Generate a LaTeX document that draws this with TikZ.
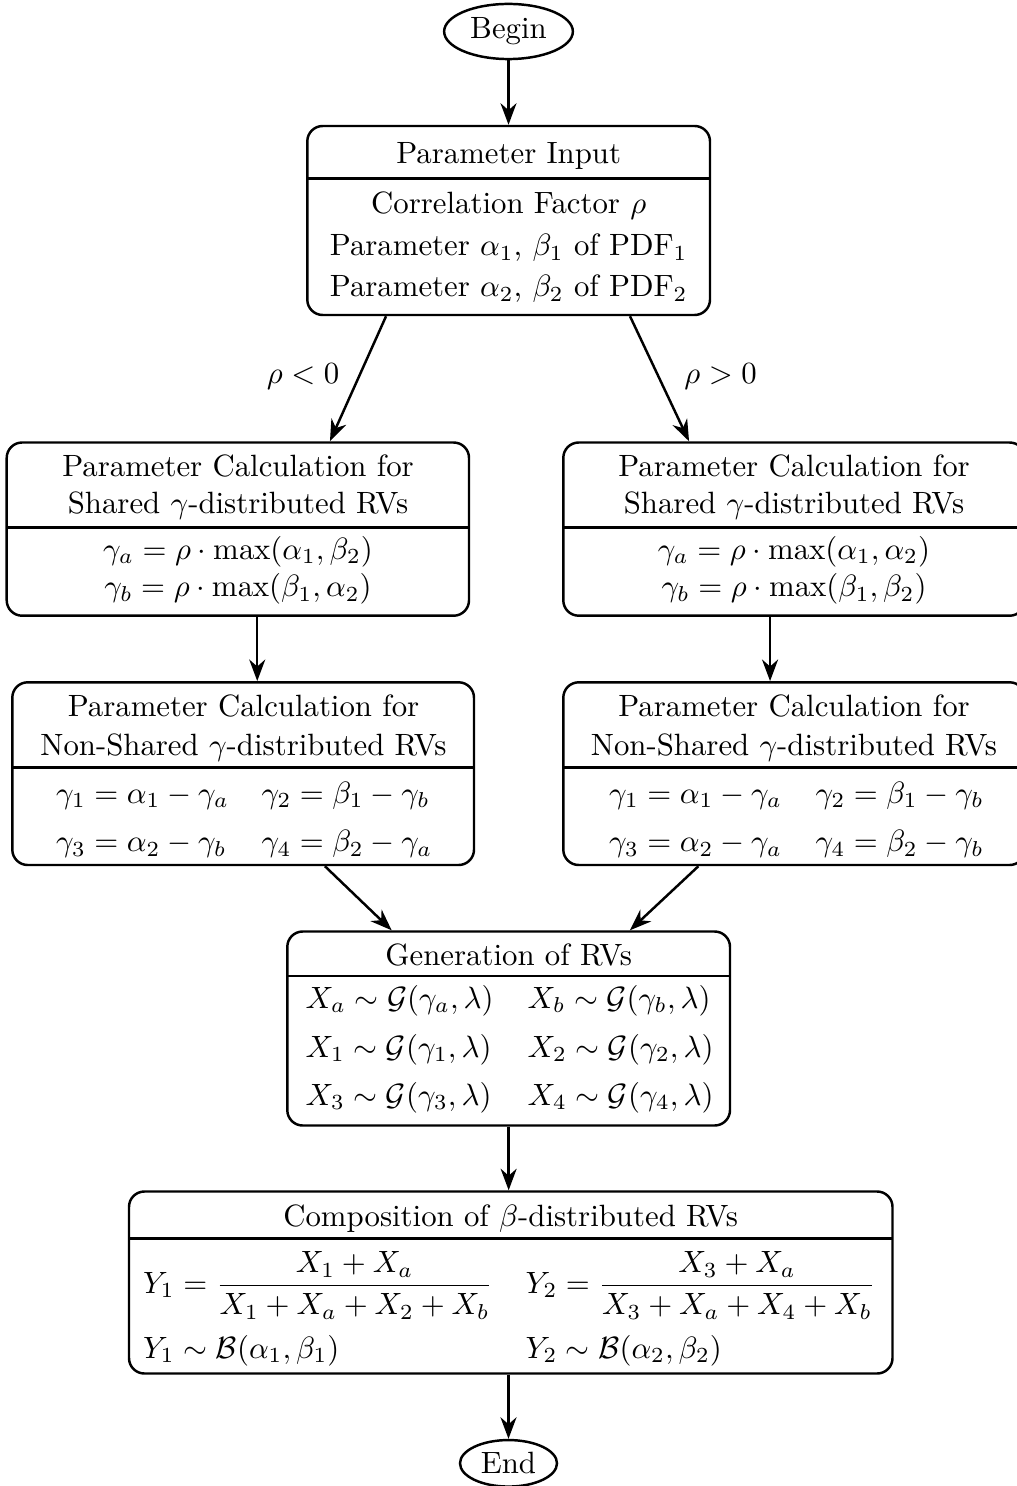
\documentclass[tikz,border=0pt]{standalone}
\usepackage{amsmath}
\usetikzlibrary{arrows.meta,shapes.geometric,calc,fit}
\begin{document}
\begin{tikzpicture}[x=0.3247pt,y=-0.3247pt,
  box/.style={draw,thick,rounded corners=5pt,inner sep=0pt},
  term/.style={draw,thick,ellipse,inner sep=0pt},
  txt/.style={inner sep=0pt,anchor=base},
  cell/.style={inner sep=0pt,anchor=base west},
  divider/.style={thick},
  arr/.style={thick,-{Stealth[length=7pt,width=5.2pt]}}]
\useasboundingbox (0,0) rectangle (1017,1486);

% terminals
\node[term,minimum width=41.8pt,minimum height=17.9pt] (begin) at (508.5,31.5) {Begin};
\node[term,minimum width=31.5pt,minimum height=15.1pt] (end) at (508.5,1463.3) {End};

% boxes
\node[box,fit={(307.3,126) (710,315)}] (pi) {};
\node[box,fit={(6.7,442.5) (469,615.7)}] (ls) {};
\node[box,fit={(563.3,442.5) (1025,615.7)}] (rs) {};
\node[box,fit={(12.3,682.3) (474,865)}] (lns) {};
\node[box,fit={(563.3,682.3) (1025,865)}] (rns) {};
\node[box,fit={(287.3,931.5) (730,1125.5)}] (gen) {};
\node[box,fit={(129,1191.5) (892.5,1373.5)}] (comp) {};

% dividers
\draw[divider] (307.3,178.3) -- (710,178.3);
\draw[divider] (6.7,527.3) -- (469,527.3);
\draw[divider] (563.3,527.3) -- (1025,527.3);
\draw[divider] (12.3,767.7) -- (474,767.7);
\draw[divider] (563.3,767.7) -- (1025,767.7);
\draw[divider] (287.3,976) -- (730,976);
\draw[divider] (129,1238.3) -- (892.5,1238.3);

% Parameter input
\node[txt] (pih) at (508.7,163.3) {Parameter Input};
\node[txt] (pi1) at (508.7,213.3) {Correlation Factor $\rho$};
\node[txt] (pi2) at (508.7,256) {Parameter $\alpha_1$, $\beta_1$ of PDF$_1$};
\node[txt] (pi3) at (508.7,296.7) {Parameter $\alpha_2$, $\beta_2$ of PDF$_2$};

% branch labels
\node[txt] (lneg) at (303,384) {$\rho<0$};
\node[txt] (lpos) at (720.5,384) {$\rho>0$};

% shared boxes
\node[txt] (lsh1) at (238,476.7) {Parameter Calculation for};
\node[txt] (lsh2) at (238,513.3) {Shared $\gamma$-distributed RVs};
\node[txt] (lsb1) at (238,559) {$\gamma_a=\rho\cdot\max(\alpha_1,\beta_2)$};
\node[txt] (lsb2) at (238,596.7) {$\gamma_b=\rho\cdot\max(\beta_1,\alpha_2)$};
\node[txt] (rsh1) at (794,476.7) {Parameter Calculation for};
\node[txt] (rsh2) at (794,513.3) {Shared $\gamma$-distributed RVs};
\node[txt] (rsb1) at (794,559) {$\gamma_a=\rho\cdot\max(\alpha_1,\alpha_2)$};
\node[txt] (rsb2) at (794,596.7) {$\gamma_b=\rho\cdot\max(\beta_1,\beta_2)$};

% non-shared boxes
\node[txt] (lnh1) at (243.5,716) {Parameter Calculation for};
\node[txt] (lnh2) at (243.5,755) {Non-Shared $\gamma$-distributed RVs};
\node[cell] (ln11) at (55.5,803.3) {$\gamma_1=\alpha_1-\gamma_a$};
\node[cell] (ln12) at (261,803.3) {$\gamma_2=\beta_1-\gamma_b$};
\node[cell] (ln21) at (55.5,851.7) {$\gamma_3=\alpha_2-\gamma_b$};
\node[cell] (ln22) at (261,851.7) {$\gamma_4=\beta_2-\gamma_a$};
\node[txt] (rnh1) at (794,716) {Parameter Calculation for};
\node[txt] (rnh2) at (794,755) {Non-Shared $\gamma$-distributed RVs};
\node[cell] (rn11) at (608.5,803.3) {$\gamma_1=\alpha_1-\gamma_a$};
\node[cell] (rn12) at (815,803.3) {$\gamma_2=\beta_1-\gamma_b$};
\node[cell] (rn21) at (608.5,851.7) {$\gamma_3=\alpha_2-\gamma_a$};
\node[cell] (rn22) at (815,851.7) {$\gamma_4=\beta_2-\gamma_b$};

% generation
\node[txt] (genh) at (508.7,965) {Generation of RVs};
\node[cell] (g11) at (305,1008) {$X_a\sim\mathcal{G}(\gamma_a,\lambda)$};
\node[cell] (g12) at (527,1008) {$X_b\sim\mathcal{G}(\gamma_b,\lambda)$};
\node[cell] (g21) at (305,1057) {$X_1\sim\mathcal{G}(\gamma_1,\lambda)$};
\node[cell] (g22) at (527,1057) {$X_2\sim\mathcal{G}(\gamma_2,\lambda)$};
\node[cell] (g31) at (305,1105) {$X_3\sim\mathcal{G}(\gamma_3,\lambda)$};
\node[cell] (g32) at (527,1105) {$X_4\sim\mathcal{G}(\gamma_4,\lambda)$};

% composition
\node[txt] (comph) at (510.7,1226.7) {Composition of $\beta$-distributed RVs};
\node[cell] (c11) at (142.5,1293.3) {$Y_1=\dfrac{X_1+X_a}{X_1+X_a+X_2+X_b}$};
\node[cell] (c12) at (525,1293.3) {$Y_2=\dfrac{X_3+X_a}{X_3+X_a+X_4+X_b}$};
\node[cell] (c21) at (142.5,1358.3) {$Y_1\sim\mathcal{B}(\alpha_1,\beta_1)$};
\node[cell] (c22) at (525,1358.3) {$Y_2\sim\mathcal{B}(\alpha_2,\beta_2)$};

% connectors
\coordinate (pL) at ($(pi.south)+(-122.6,0)$);
\coordinate (pR) at ($(pi.south)+(121.35,0)$);
\coordinate (lsIn) at ($(ls.north)+(92.1,0)$);
\coordinate (rsIn) at ($(rs.north)+(-105.1,0)$);
\coordinate (lsOut) at ($(ls.south)+(19.4,0)$);
\coordinate (rsOut) at ($(rs.south)+(-24.1,0)$);
\coordinate (lnOut) at ($(lns.south)+(81.8,0)$);
\coordinate (rnOut) at ($(rns.south)+(-95.8,0)$);
\coordinate (genInL) at ($(gen.north)+(-117,0)$);
\coordinate (genInR) at ($(gen.north)+(121.3,0)$);

\draw[arr] (begin.south) -- (begin.south |- pi.north);
\draw[arr] (pL) -- (lsIn);
\draw[arr] (pR) -- (rsIn);
\draw[arr] (lsOut) -- (lsOut |- lns.north);
\draw[arr] (rsOut) -- (rsOut |- rns.north);
\draw[arr] (lnOut) -- (genInL);
\draw[arr] (rnOut) -- (genInR);
\draw[arr] (gen.south) -- (gen.south |- comp.north);
\draw[arr] (end.north |- comp.south) -- (end.north);
\end{tikzpicture}
\end{document}
